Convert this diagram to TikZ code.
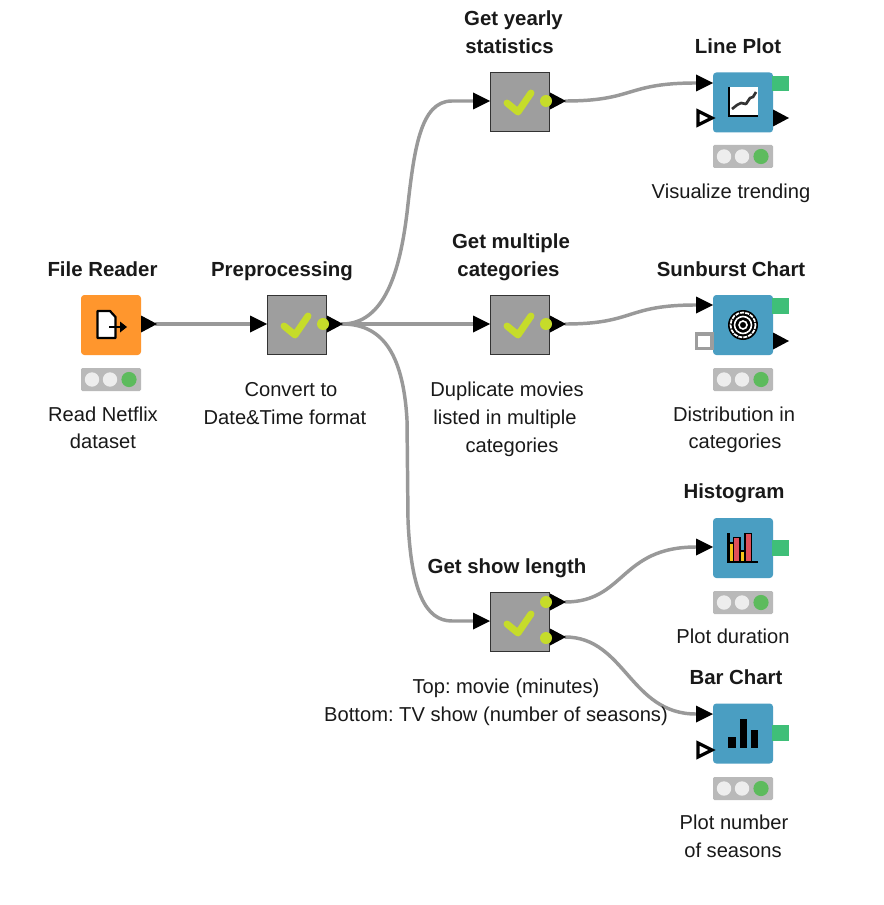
\documentclass[tikz,border=0pt]{standalone}
\usepackage{fontspec}
\setmainfont{Liberation Sans}
\usetikzlibrary{calc}
\definecolor{knblue}{HTML}{4A9EC2}
\definecolor{knorange}{HTML}{FF962D}
\definecolor{kngray}{HTML}{9E9E9E}
\definecolor{knlime}{HTML}{C6DC2A}
\definecolor{kngreen}{HTML}{3FBF78}
\definecolor{kntraffic}{HTML}{B9B9B9}
\definecolor{knlight}{HTML}{EDEDED}
\definecolor{knok}{HTML}{5DBB5D}
\definecolor{knwire}{HTML}{999999}
\definecolor{knyellow}{HTML}{F5C518}
\definecolor{knred}{HTML}{E0505A}
\pgfdeclarelayer{paper}
\pgfdeclarelayer{edges}
\pgfsetlayers{paper,edges,main}
\tikzset{
  x=0.75pt,y=-0.75pt,
  every node/.style={font=\frenchspacing\fontsize{15.1}{21}\selectfont,text=black!90,inner sep=0pt,align=center},
  caption/.style={text height=11pt,text depth=3pt,yshift=-1.2pt},
  title/.style={caption,font=\frenchspacing\fontsize{15.3}{21}\selectfont\bfseries},
  box/.style={minimum size=45pt,inner sep=0pt,outer sep=0pt,text height=,text depth=},
  viewbox/.style={box,fill=knblue,rounded corners=2.5pt},
  readerbox/.style={box,fill=knorange,rounded corners=2.5pt},
  metabox/.style={box,fill=kngray,draw=black!80,line width=1.2pt,minimum size=44pt},
  wire/.style={draw=knwire,line width=2.6pt,line cap=round},
  tick/.style={draw=knlime,line width=5.2pt,line cap=round,line join=round}
}
% name, left x, centre y : solid input port, coordinate on its base
\newcommand\portin[3]{\fill[black] (#2,#3-8.5)--(#2+17,#3)--(#2,#3+8.5)--cycle; \coordinate (#1) at (#2,#3);}
% name, left x, centre y : solid output port, coordinate on its tip
\newcommand\portout[3]{\fill[black] (#2,#3-8.5)--(#2+16,#3)--(#2,#3+8.5)--cycle; \coordinate (#1) at (#2+15,#3);}
% open optional input port
\newcommand\portopen[2]{\draw[black,fill=white,line width=2.4pt,line join=miter] (#1,#2-7)--(#1+14,#2)--(#1,#2+7)--cycle;}
% traffic light under a node, left x, top y
\newcommand\lights[2]{%
  \fill[kntraffic,rounded corners=1pt] (#1,#2) rectangle (#1+60,#2+23);
  \fill[knlight] (#1+11,#2+11.5) circle (7.2);
  \fill[knlight] (#1+29,#2+11.5) circle (7.2);
  \fill[knok] (#1+48,#2+11.5) circle (7.6);}
\newcommand\tickmark[2]{\draw[tick] (#1-12,#2+1)--(#1-1,#2+10)--(#1+12,#2-9);}
\newcommand\ball[2]{\fill[knlime] (#1,#2) circle (6);}
\begin{document}
\begin{tikzpicture}
\useasboundingbox (0,0) rectangle (883,905);
\begin{pgfonlayer}{paper}\fill[white] (0,0) rectangle (883,905);\end{pgfonlayer}

% ---- nodes
\node[readerbox] (reader) at (111,325) {};
\node[metabox] (prep) at (297,325) {};
\node[metabox] (yearly) at (520,102) {};
\node[metabox] (multi) at (520,325) {};
\node[metabox] (length) at (520,622) {};
\node[viewbox] (line) at (743,102.5) {};
\node[viewbox] (sun) at (743,325) {};
\node[viewbox] (hist) at (743,548) {};
\node[viewbox] (bar) at (743,733.5) {};

% ---- ports
\portout{readerout}{141}{324}
\portin{prepin}{250}{324}
\portout{prepout}{327}{324}
\portin{yearlyin}{473}{101}
\portout{yearlyout}{550}{101}
\portin{multiin}{473}{324}
\portout{multiout}{550}{324}
\portin{lengthin}{473}{621}
\portout{lengthtop}{550}{602}
\portout{lengthbot}{550}{637}
\portin{linein}{696}{83}
\portin{sunin}{696}{305}
\portin{histin}{696}{547}
\portin{barin}{696}{714}
\portopen{698}{118}
\portopen{698}{750}
\draw[kntraffic!85!black,fill=white,line width=2.4pt] (696.5,334) rectangle (712,348.5);
\portout{lineout}{773}{118}
\portout{sunout}{773}{341}
\foreach \y in {76,298,540,725} \fill[kngreen] (772,\y) rectangle (789,\y+15.5);

% ---- status lights
\lights{81}{368}
\lights{713}{145}
\lights{713}{368}
\lights{713}{591}
\lights{713}{777}

% ---- metanode marks
\tickmark{296}{325}
\tickmark{519}{102}
\tickmark{519}{325}
\tickmark{519}{623}
\ball{323}{324}
\ball{546}{101}
\ball{546}{324}
\ball{546}{602}
\ball{546}{638}

% ---- File Reader icon
\draw[black,fill=white,line width=1.7pt,line join=round] (97.5,311)--(110,311)--(115.5,317)--(115.5,338)--(97.5,338)--cycle;
\draw[black,line width=2pt] (109,327)--(123,327);
\fill[black] (120,321.5)--(127,327)--(120,332.5)--cycle;

% ---- Line Plot icon
\fill[white] (729,87) rectangle (758,115);
\draw[black,line width=1.7pt] (729,87)--(729,116)--(758,116);
\draw[black!80,line width=2pt,line join=round] (732,109)--(737,105)--(741,103)--(746,104)--(750,98)--(753,97)--(756,92);

% ---- Sunburst icon
\fill[black] (743,325) circle (15);
\draw[white,line width=1.3pt,dash pattern=on 3pt off 0.8pt] (743,325) circle (12.5);
\draw[white,line width=1.2pt] (743,325) circle (8.5);
\draw[white,line width=1.2pt] (743,325) circle (4);

% ---- Histogram icon
\fill[knyellow] (729,543) rectangle (733.5,562);
\fill[knred] (733.5,537.5) rectangle (740,562);
\fill[knyellow] (740,551) rectangle (745,562);
\fill[knred] (745,533.5) rectangle (751.5,562);
\draw[black,line width=0.8pt] (733.5,562)--(733.5,537.5)--(740,537.5)--(740,562) (745,562)--(745,533.5)--(751.5,533.5)--(751.5,562) (740,551)--(745,551) (729,543)--(733.5,543);
\draw[black,line width=1.6pt] (728.5,533)--(728.5,562)--(758,562);

% ---- Bar Chart icon
\fill[black] (728,737) rectangle (736,748);
\fill[black] (739.5,719) rectangle (747,748);
\fill[black] (751,730) rectangle (758,748);

% ---- connectors
\begin{pgfonlayer}{edges}
\draw[wire] (readerout) -- (prepin);
\draw[wire] (prepout) -- (multiin);
\draw[wire] (prepout) .. controls (385,324) and (400,270) .. (407,213) .. controls (414,150) and (420,101) .. (452,101) -- (yearlyin);
\draw[wire] (prepout) .. controls (380,324) and (403,350) .. (407,420) -- (408,520) .. controls (411,590) and (425,621) .. (452,621) -- (lengthin);
\draw[wire] (yearlyout) .. controls (635,101) and (625,83) .. (linein);
\draw[wire] (multiout) .. controls (635,324) and (625,305) .. (sunin);
\draw[wire] (lengthtop) .. controls (625,602) and (620,547) .. (histin);
\draw[wire] (lengthbot) .. controls (625,637) and (630,714) .. (barin);
\end{pgfonlayer}

% ---- labels
\node[title] (t1) at (102.5,270) {File Reader};
\node[title] (t2) at (282,270) {Preprocessing};
\node[title] (t3a) at (513.5,19) {Get yearly};
\node[title] (t3b) at (509.5,47) {statistics};
\node[title] (t4) at (738,47) {Line Plot};
\node[title] (t5a) at (511,242) {Get multiple};
\node[title] (t5b) at (508.5,270) {categories};
\node[title] (t6) at (731,270) {Sunburst Chart};
\node[title] (t7) at (507,567) {Get show length};
\node[title] (t8) at (734,492) {Histogram};
\node[title] (t9) at (736,678) {Bar Chart};
\node[caption] (c1a) at (103,415) {Read Netflix};
\node[caption] (c1b) at (103,442) {dataset};
\node[caption] (c2a) at (291,390) {Convert to};
\node[caption] (c2b) at (285,418) {Date\&Time format};
\node[caption] (c3) at (731,192) {Visualize trending};
\node[caption] (c4a) at (507,390) {Duplicate movies};
\node[caption] (c4b) at (505,418) {listed in multiple};
\node[caption] (c4c) at (512,446) {categories};
\node[caption] (c5a) at (734,415) {Distribution in};
\node[caption] (c5b) at (735,442) {categories};
\node[caption] (c6a) at (506,687) {Top: movie (minutes)};
\node[caption] (c6b) at (496,715) {Bottom: TV show (number of seasons)};
\node[caption] (c7) at (733,637) {Plot duration};
\node[caption] (c8a) at (734,823) {Plot number};
\node[caption] (c8b) at (733,851) {of seasons};
\end{tikzpicture}
\end{document}
